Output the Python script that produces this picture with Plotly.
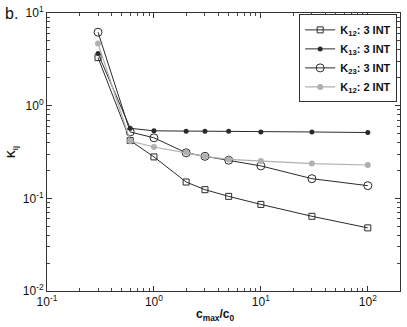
import plotly.graph_objects as go

# c_max / c_0 ratios
ratio = [0.3, 0.6, 1, 2, 3, 5, 10, 30, 100]

# K_ij values
k12_3int = [3.3, 0.42, 0.28, 0.150, 0.124, 0.105, 0.086, 0.064, 0.048]
k13_3int = [3.65, 0.57, 0.535, 0.53, 0.53, 0.53, 0.52, 0.52, 0.513]
k23_3int = [6.2, 0.52, 0.45, 0.31, 0.284, 0.258, 0.224, 0.163, 0.137]
k12_2int = [4.7, 0.415, 0.358, 0.312, 0.284, 0.263, 0.253, 0.237, 0.229]

names = ["<b>K<sub>12</sub>: 3 INT</b>", "<b>K<sub>13</sub>: 3 INT</b>",
         "<b>K<sub>23</sub>: 3 INT</b>", "<b>K<sub>12</sub>: 2 INT</b>"]

x_major = [0.1, 1, 10, 100]
x_major_text = ["10<sup>-1</sup>", "10<sup>0</sup>", "10<sup>1</sup>", "10<sup>2</sup>"]
y_major = [0.01, 0.1, 1, 10]
y_major_text = ["10<sup>-2</sup>", "10<sup>-1</sup>", "10<sup>0</sup>", "10<sup>1</sup>"]
x_minor = [m * 10.0 ** e for e in (-1, 0, 1) for m in range(2, 10)] + [200]
y_minor = [m * 10.0 ** e for e in (-2, -1, 0) for m in range(2, 10)]

DARK = "#2a2a2a"
GREY = "#b0b0b0"
FONT = "Liberation Sans, Arial"

fig = go.Figure()
fig.add_trace(go.Scatter(x=ratio, y=k12_3int, name=names[0], mode="lines+markers",
                         line=dict(color=DARK, width=1),
                         marker=dict(symbol="square-open", size=6, color=DARK, line=dict(width=1))))
fig.add_trace(go.Scatter(x=ratio, y=k13_3int, name=names[1], mode="lines+markers",
                         line=dict(color=DARK, width=1),
                         marker=dict(symbol="circle", size=5, color=DARK)))
fig.add_trace(go.Scatter(x=ratio, y=k23_3int, name=names[2], mode="lines+markers",
                         line=dict(color=DARK, width=1),
                         marker=dict(symbol="circle-open", size=8, color=DARK, line=dict(width=1))))
fig.add_trace(go.Scatter(x=ratio, y=k12_2int, name=names[3], mode="lines+markers",
                         line=dict(color=GREY, width=1.2),
                         marker=dict(symbol="circle", size=6, color=GREY)))

base = dict(type="log", showgrid=False, zeroline=False, showline=True, automargin=False,
            linecolor="#333", linewidth=1, mirror="ticks", ticks="inside", tickcolor="#333",
            ticklen=5, tickfont=dict(family=FONT, size=12, color="#111"))

fig.update_xaxes(**base, range=[-1, 2.301], tickvals=x_major, ticktext=x_major_text,
                 minor=dict(tickvals=x_minor, ticks="inside", ticklen=3,
                            tickcolor="#444", showgrid=False))
fig.update_yaxes(**base, range=[-2, 1], tickvals=y_major, ticktext=y_major_text,
                 minor=dict(tickvals=y_minor, ticks="inside", ticklen=3,
                            tickcolor="#444", showgrid=False),
                 title=dict(text="<b>K<sub>ij</sub></b>", standoff=4,
                            font=dict(family=FONT, size=11, color="#111")))

fig.add_annotation(text="<b>c<sub>max</sub>/c<sub>0</sub></b>", xref="paper", yref="paper",
                   x=0.476, y=-0.05, xanchor="center", yanchor="top", showarrow=False,
                   font=dict(family=FONT, size=12, color="#111"))

fig.add_annotation(text="b.", xref="paper", yref="paper", x=-0.125, y=1.035,
                   xanchor="left", yanchor="top", showarrow=False,
                   font=dict(family=FONT, size=16, color="#111"))

fig.update_layout(
    width=407, height=327,
    margin=dict(l=47, r=7, t=13, b=36),
    paper_bgcolor="white", plot_bgcolor="white",
    font=dict(family=FONT, color="#111"),
    legend=dict(x=0.992, y=0.995, xanchor="right", yanchor="top",
                bgcolor="white", bordercolor="#333", borderwidth=1,
                font=dict(size=11), tracegroupgap=0, itemwidth=30),
)

# drop the default 8 px body margin so the figure fills the window
fig.write_html("out.html", config={"displayModeBar": False},
               post_script="document.body.style.margin='0';")
